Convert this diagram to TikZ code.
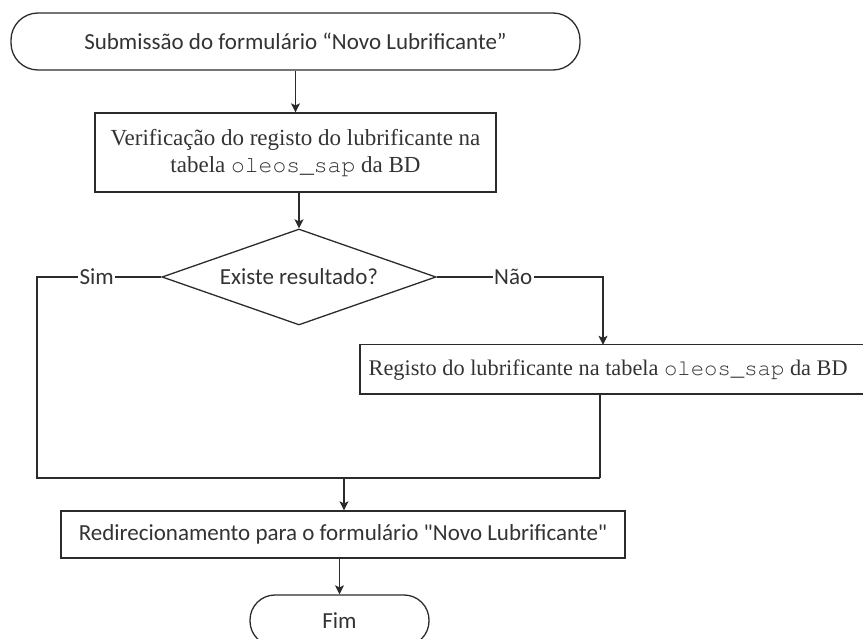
\documentclass[tikz,border=0pt]{standalone}
\usepackage[T1,TU]{fontenc}
\usepackage{fontspec}
\setmainfont{Liberation Serif}
\newfontfamily\uifont{Carlito}
\usetikzlibrary{arrows.meta,shapes.geometric}

% thin Courier for table names
\newcommand\dbtable[1]{{\fontencoding{T1}\fontfamily{pcr}\selectfont #1}}

\definecolor{linegray}{HTML}{2B2B2B}
\definecolor{inkgray}{HTML}{333333}

\tikzset{
  line/.style={draw=linegray, line width=1.3pt},
  flow/.style={line, -{Stealth[length=9pt,width=9pt,inset=2pt]}},
  serifbox/.style={line, rectangle, inner sep=0pt, text=inkgray,
    font=\fontsize{23}{27.5}\selectfont},
  sansbox/.style={line, rectangle, inner sep=0pt, text=inkgray,
    font=\uifont\fontsize{23}{28}\selectfont},
  terminal/.style={sansbox, rounded corners=27pt},
  decision/.style={line, diamond, aspect=2.8, inner sep=0pt, text=inkgray,
    font=\uifont\fontsize{23}{28}\selectfont},
  lbl/.style={fill=white, inner sep=1.5pt, text=inkgray,
    font=\uifont\fontsize{23}{28}\selectfont},
}

\begin{document}
\begin{tikzpicture}[x=1pt, y=-1pt]
\useasboundingbox (0,0) rectangle (863,639);

% start terminal
\node[terminal, minimum width=569pt, minimum height=57pt] (start) at (295.5,41.5)
  {Submissão do formulário “Novo Lubrificante”};

% lookup step
\node[serifbox, minimum width=401pt, minimum height=79pt, align=center] (verif) at (295.5,152.5)
  {Verificação do registo do lubrificante na\\tabela \dbtable{oleos\_sap} da BD};

% decision
\node[decision, minimum width=274pt, minimum height=96pt] (dec) at (299,277)
  {Existe resultado?};

% insert step: the text sits at the left, the frame runs on past the right edge
\node[serifbox, draw=none, anchor=west, minimum height=49pt, inner xsep=8pt,
      font=\fontsize{22.3}{27}\selectfont] (reg) at (360,370)
  {Registo do lubrificante na tabela \dbtable{oleos\_sap} da BD};
\draw[line] (reg.north west) rectangle ++(530,49);

% redirect step
\node[sansbox, minimum width=564pt, minimum height=47pt] (redir) at (343,534.5)
  {Redirecionamento para o formulário "Novo Lubrificante"};

% end terminal
\node[terminal, minimum width=179pt, minimum height=51pt, rounded corners=25pt] (fim) at (339.5,620.5)
  {Fim};

% routing points
\coordinate (sturn) at (37,277);
\coordinate (nturn) at (603,277);
\coordinate (mergeL) at (37,478);
\coordinate (mergeR) at (600,478);
\coordinate (mergeM) at (344,478);

% connectors
\draw[flow] (start.south -| verif.north) -- (verif.north);
\draw[flow] (verif.south -| dec.north) -- (dec.north);
\draw[line] (dec.west) -- node[lbl, pos=0.52] {Sim} (sturn) -- (mergeL) -- (mergeR);
\draw[flow] (dec.east) -- node[lbl, pos=0.46] {Não} (nturn) -- (nturn |- reg.north);
\draw[line] (reg.south -| mergeR) -- (mergeR);
\draw[flow] (mergeM) -- (mergeM |- redir.north);
\draw[flow] (redir.south -| fim.north) -- (fim.north);
\end{tikzpicture}
\end{document}
